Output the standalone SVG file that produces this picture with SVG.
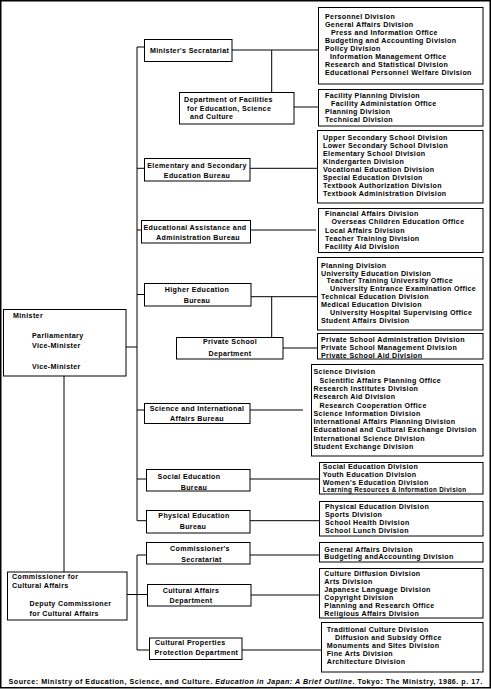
<svg xmlns="http://www.w3.org/2000/svg" width="491" height="690" viewBox="0 0 491 690">
<style>
.bx{fill:#fff;stroke:#000;stroke-width:1}
.ln{stroke:#000;stroke-width:1;fill:none}
text{font-family:"Liberation Sans",Arial,Helvetica,sans-serif;font-size:7.1px;font-weight:bold;letter-spacing:0.35px;fill:#000}
.c{text-anchor:middle}
.sm{font-size:6.3px}
</style>
<rect x="0.75" y="0.75" width="489.5" height="687" fill="#fff" stroke="#000" stroke-width="1.5"/>
<g id="connectors" class="ln">
<path d="M137,47V520.7M137,47H144M137,168.3H144M137,230H141.7M137,294.5H144M126,347H137M137,410H144M137,479H146M137,520.7H146"/>
<path d="M232,50H318M271.7,50V92M294,107H318M250,168.3H317M250.7,230H316M251,296.7H317M271.7,296.7V337M283,348H317M250,410H303M250,479H319M250,520.7H319"/>
<path d="M64,376V572M137,555V650M137,555H146M127,594.5H147M137,650H149M250,555H319M251,595H319M242,650H321"/>
</g>
<g id="minister">
<rect class="bx" x="3.5" y="309.5" width="122.5" height="66.5"/>
<text x="13" y="318.3">Minister</text>
<text x="32" y="337.8">Parliamentary</text>
<text x="32" y="347.8">Vice-Minister</text>
<text x="32" y="368.8">Vice-Minister</text>
</g>
<g id="commissioner">
<rect class="bx" x="7.5" y="572" width="119.5" height="48"/>
<text x="12" y="578.5">Commissioner for</text>
<text x="12" y="588">Cultural Affairs</text>
<text x="29.5" y="606">Deputy Commissioner</text>
<text x="29.5" y="615.5">for Cultural Affairs</text>
</g>
<g id="ministers-secretariat">
<rect class="bx" x="144.5" y="39.5" width="87.5" height="22"/>
<text x="150" y="52.8">Minister's Secratariat</text>
</g>
<g id="dept-facilities">
<rect class="bx" x="179.5" y="92.5" width="114.5" height="31.5"/>
<text x="184" y="101.8">Department of Facilities</text>
<text x="187" y="110.6">for Education, Science</text>
<text x="190" y="119.4">and Culture</text>
</g>
<g id="elementary-bureau">
<rect class="bx" x="144.5" y="158.5" width="105.5" height="22.5"/>
<text class="c" x="197" y="167.6">Elementary and Secondary</text>
<text class="c" x="197" y="177.6">Education Bureau</text>
</g>
<g id="assistance-bureau">
<rect class="bx" x="141.5" y="220.5" width="109" height="22.5"/>
<text class="c" x="195" y="229.8">Educational Assistance and</text>
<text class="c" x="198" y="239.8">Administration Bureau</text>
</g>
<g id="higher-bureau">
<rect class="bx" x="144.5" y="283.5" width="106.5" height="22.5"/>
<text class="c" x="197" y="291.8">Higher Education</text>
<text class="c" x="197" y="302.6">Bureau</text>
</g>
<g id="private-dept">
<rect class="bx" x="176.5" y="337.5" width="106.5" height="21.5"/>
<text class="c" x="230" y="344.3">Private School</text>
<text class="c" x="230" y="355.8">Department</text>
</g>
<g id="science-bureau">
<rect class="bx" x="144.5" y="403.5" width="105.5" height="20"/>
<text class="c" x="197" y="410.9">Science and International</text>
<text class="c" x="197" y="420.9">Affairs Bureau</text>
</g>
<g id="social-bureau">
<rect class="bx" x="146.5" y="469.5" width="103.5" height="21.5"/>
<text class="c" x="189" y="479.3">Social Education</text>
<text class="c" x="194" y="489.8">Bureau</text>
</g>
<g id="physical-bureau">
<rect class="bx" x="146.5" y="510.5" width="103.5" height="22.5"/>
<text class="c" x="194" y="518.3">Physical Education</text>
<text class="c" x="193" y="528.6">Bureau</text>
</g>
<g id="commissioners-secretariat">
<rect class="bx" x="146.5" y="542.5" width="103.5" height="21.5"/>
<text class="c" x="200" y="550.8">Commissioner's</text>
<text class="c" x="201.5" y="561.6">Secratariat</text>
</g>
<g id="cultural-affairs-dept">
<rect class="bx" x="147.5" y="584.5" width="103.5" height="21.5"/>
<text class="c" x="191" y="592.6">Cultural Affairs</text>
<text class="c" x="191" y="603.1">Department</text>
</g>
<g id="cultural-properties-dept">
<rect class="bx" x="149.5" y="638" width="92.5" height="21.5"/>
<text x="155" y="645.3">Cultural Properties</text>
<text x="154.5" y="654.8">Protection Department</text>
</g>
<g id="div-secretariat">
<rect class="bx" x="318.5" y="7.5" width="164.5" height="76.5"/>
<text x="325" y="18.6">Personnel Division</text>
<text x="325" y="26.6">General Affairs Division</text>
<text x="331" y="34.6">Press and Information Office</text>
<text x="325" y="42.6">Budgeting and Accounting Division</text>
<text x="325" y="50.6">Policy Division</text>
<text x="330" y="58.6">Information Management Office</text>
<text x="325" y="66.6">Research and Statistical Division</text>
<text x="325" y="74.6">Educational Personnel Welfare Division</text>
</g>
<g id="div-facilities">
<rect class="bx" x="318.5" y="89.5" width="164.5" height="36.5"/>
<text x="325" y="97.6">Facility Planning Division</text>
<text x="331" y="105.6">Facility Administation Office</text>
<text x="325" y="113.6">Planning Division</text>
<text x="325" y="121.6">Technical Division</text>
</g>
<g id="div-elementary">
<rect class="bx" x="317.5" y="130.5" width="165.5" height="72.5"/>
<text x="323" y="139.6">Upper Secondary School Division</text>
<text x="323" y="147.6">Lower Secondary School Division</text>
<text x="323" y="155.6">Elementary School Division</text>
<text x="323" y="163.6">Kindergarten Division</text>
<text x="323" y="171.6">Vocational Education Division</text>
<text x="323" y="179.6">Special Education Division</text>
<text x="323" y="187.6">Textbook Authorization Division</text>
<text x="323" y="195.6">Textbook Administration Division</text>
</g>
<g id="div-assistance">
<rect class="bx" x="318.5" y="208.5" width="164.5" height="44"/>
<text x="325" y="215.9">Financial Affairs Division</text>
<text x="331.5" y="224.2">Overseas Children Education Office</text>
<text x="325" y="232.5">Local Affairs Division</text>
<text x="325" y="240.8">Teacher Training Division</text>
<text x="325" y="249.1">Facility Aid Division</text>
</g>
<g id="div-higher">
<rect class="bx" x="317.5" y="257.5" width="165.5" height="72.5"/>
<text x="321" y="267.6">Planning Division</text>
<text x="321" y="275.5">University  Education Division</text>
<text x="326.5" y="283.4">Teacher Training University Office</text>
<text x="330" y="291.3">University Entrance Examination Office</text>
<text x="321" y="299.2">Technical Education Division</text>
<text x="321" y="307.1">Medical Education Division</text>
<text x="330" y="315">University Hospital Supervising Office</text>
<text x="321" y="322.9">Student Affairs Division</text>
</g>
<g id="div-private">
<rect class="bx" x="317.5" y="333.5" width="165.5" height="25.5"/>
<text x="321" y="342.4">Private School Administration Division</text>
<text x="321" y="350.1">Private School Management Division</text>
<text x="321" y="357.8">Private School Aid Division</text>
</g>
<g id="div-science">
<rect class="bx" x="311.5" y="364.5" width="171.5" height="91.5"/>
<text x="313.5" y="374.3">Science Division</text>
<text x="319.5" y="382.6">Scientific Affairs Planning Office</text>
<text x="313.5" y="390.9">Research Institutes Division</text>
<text x="313.5" y="399.2">Research Aid Division</text>
<text x="319.5" y="407.5">Research Cooperation Office</text>
<text x="313.5" y="415.8">Science Information Division</text>
<text x="313.5" y="424.1">International Affairs Planning Division</text>
<text x="313.5" y="432.4">Educational and Cultural Exchange Division</text>
<text x="313.5" y="440.7">International Science Division</text>
<text x="313.5" y="449">Student Exchange Division</text>
</g>
<g id="div-social">
<rect class="bx" x="319.5" y="462.5" width="163.5" height="31.5"/>
<text x="322.7" y="469.2">Social Education Division</text>
<text x="322.7" y="477">Youth Education Division</text>
<text x="322.7" y="484.8">Women's Education Division</text>
<text class="sm" x="322.7" y="492">Learning Resources &amp; Information Division</text>
</g>
<g id="div-physical">
<rect class="bx" x="319.5" y="501.5" width="163.5" height="34.5"/>
<text x="325" y="508.6">Physical Education Division</text>
<text x="325" y="516.6">Sports Division</text>
<text x="325" y="524.6">School Health Division</text>
<text x="325" y="532.6">School Lunch Division</text>
</g>
<g id="div-commissioners-secretariat">
<rect class="bx" x="319.5" y="542.5" width="163.5" height="19.5"/>
<text x="324.3" y="551.6">General Affairs Division</text>
<text x="324.3" y="559.4">Budgeting andAccounting Division</text>
</g>
<g id="div-cultural-affairs">
<rect class="bx" x="319.5" y="568.5" width="163.5" height="49.5"/>
<text x="324.3" y="576.1">Culture Diffusion Division</text>
<text x="324.3" y="584.1">Arts Division</text>
<text x="324.3" y="592.1">Japanese Language Division</text>
<text x="324.3" y="600.1">Copyright Division</text>
<text x="324.3" y="608.1">Planning and Research Office</text>
<text x="324.3" y="616.1">Religious Affairs Division</text>
</g>
<g id="div-cultural-properties">
<rect class="bx" x="321.5" y="622.5" width="161.5" height="49.5"/>
<text x="326.7" y="631.9">Traditional Culture Division</text>
<text x="335" y="639.9">Diffusion and Subsidy Office</text>
<text x="326.7" y="647.9">Monuments and Sites Division</text>
<text x="326.7" y="655.9">Fine Arts Division</text>
<text x="326.7" y="663.9">Architecture Division</text>
</g>
<text x="245.5" y="684" class="c" textLength="474" lengthAdjust="spacing">Source: Ministry of Education, Science, and Culture. <tspan font-style="italic">Education in Japan: A Brief Outline</tspan>. Tokyo: The Ministry, 1986. p. 17.</text>
</svg>
